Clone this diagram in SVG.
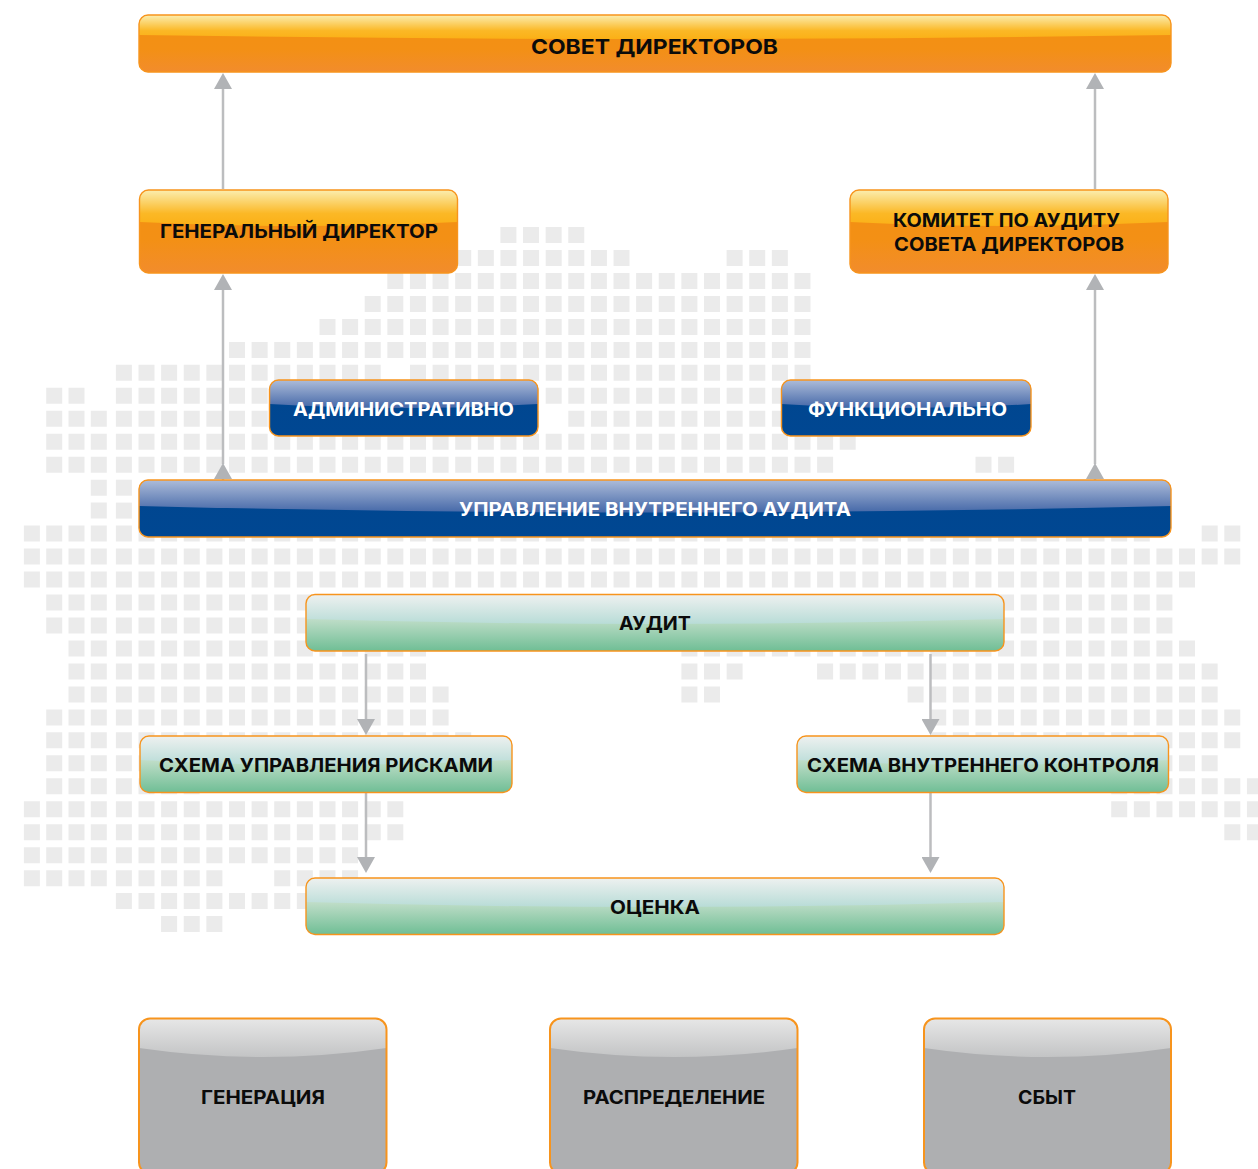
<svg xmlns="http://www.w3.org/2000/svg" width="1258" height="1169" viewBox="0 0 1258 1169">
<style>
.m{fill:none;stroke:#ebebeb;stroke-width:16;stroke-dasharray:16 6.62}
.l{fill:none;stroke:#ebebeb;stroke-width:16;stroke-dasharray:16 6.3}
.c{fill:none;stroke:#bcbdbf;stroke-width:2.5;marker-end:url(#ah)}
.b{fill:none;stroke:#f7941d;stroke-width:1.4}
.g{stroke-width:2}
.o{fill:url(#oBase)}.og{fill:url(#oGloss)}
.u{fill:url(#uBase)}.ug{fill:url(#uGloss)}
.v{fill:url(#vBase)}.vg{fill:url(#vGloss)}
.y{fill:#aeafb1}.yg{fill:url(#yGloss)}
text{font-family:Inter,"Liberation Sans",sans-serif;font-weight:700;font-size:19px;fill:#0b0b0b}
.w{fill:#fff}
</style>
<defs>
<marker id="ah" viewBox="0 0 16 18" refX="0" refY="9" markerWidth="16" markerHeight="18" markerUnits="userSpaceOnUse" orient="auto"><path d="M0 0L16 9L0 18Z" fill="#b1b3b6"/></marker>
<linearGradient id="oBase" x1="0" y1="0" x2="0" y2="1"><stop offset="0" stop-color="#f39011"/><stop offset=".6" stop-color="#f39015"/><stop offset="1" stop-color="#f28c2c"/></linearGradient>
<linearGradient id="oGloss" x1="0" y1="0" x2="0" y2="1"><stop offset="0" stop-color="#fbeeb0"/><stop offset=".65" stop-color="#fbb826"/><stop offset="1" stop-color="#fbb016"/></linearGradient>
<linearGradient id="uBase" x1="0" y1="0" x2="0" y2="1"><stop offset="0" stop-color="#00468f"/><stop offset="1" stop-color="#004792"/></linearGradient>
<linearGradient id="uGloss" x1="0" y1="0" x2="0" y2="1"><stop offset="0" stop-color="#adbcd9"/><stop offset="1" stop-color="#4568a8"/></linearGradient>
<linearGradient id="vBase" x1="0" y1="0" x2="0" y2="1"><stop offset="0" stop-color="#c4dfcb"/><stop offset=".4" stop-color="#c4dfcb"/><stop offset="1" stop-color="#6fbe95"/></linearGradient>
<linearGradient id="vGloss" x1="0" y1="0" x2="0" y2="1"><stop offset="0" stop-color="#eef1f0"/><stop offset="1" stop-color="#b8dcd7"/></linearGradient>
<linearGradient id="yGloss" x1="0" y1="0" x2="0" y2="1"><stop offset="0" stop-color="#e7e7e7"/><stop offset="1" stop-color="#c3c4c5"/></linearGradient>
</defs>
<g id="map-background" transform="translate(-0.4,-0.5)">
<path class="m" d="M500.8 235.5H584.7"/>
<path class="m" d="M455.6 258.5H629.9M727 258.5H788.3"/>
<path class="m" d="M387.7 281.4H810.9"/>
<path class="m" d="M365.1 304.4H810.9"/>
<path class="m" d="M319.9 327.4H810.9"/>
<path class="m" d="M229.4 350.4H810.9"/>
<path class="m" d="M116.3 373.3H381.1M410.4 373.3H810.9"/>
<path class="m" d="M116.3 396.3H810.9"/>
<path class="m" d="M116.3 419.3H539.5M568.7 419.3H810.9"/>
<path class="m" d="M116.3 442.2H856.1"/>
<path class="m" d="M116.3 465.2H833.5M975.9 465.2H1014.5"/>
<path class="m" d="M116.3 488.2H132.3"/>
<path class="m" d="M116.3 511.1H132.3"/>
<path class="m" d="M116.3 534.1H1150.2M1202.1 534.1H1240.7"/>
<path class="m" d="M116.3 557.1H1240.7"/>
<path class="m" d="M116.3 580.1H1195.4"/>
<path class="m" d="M116.3 603H1172.8"/>
<path class="m" d="M116.3 626H1172.8"/>
<path class="m" d="M116.3 649H426.4M681.8 649H1195.4"/>
<path class="m" d="M116.3 671.9H426.4M681.8 671.9H743M817.5 671.9H1218.1"/>
<path class="m" d="M116.3 694.9H449M681.8 694.9H720.4M908 694.9H1218.1"/>
<path class="m" d="M116.3 717.9H449M930.6 717.9H1240.7"/>
<path class="m" d="M116.3 740.8H471.6M930.6 740.8H1240.7"/>
<path class="m" d="M116.3 763.8H200M1156.8 763.8H1218.1"/>
<path class="m" d="M116.3 786.8H200M1111.6 786.8H1263.3"/>
<path class="m" d="M116.3 809.8H403.7M1111.6 809.8H1263.3"/>
<path class="m" d="M116.3 832.7H403.7M1224.7 832.7H1263.3"/>
<path class="m" d="M116.3 855.7H358.5"/>
<path class="m" d="M116.3 878.7H222.8M274.6 878.7H358.5"/>
<path class="m" d="M116.3 901.6H313.3"/>
<path class="m" d="M161.5 924.6H222.8"/>
<path class="l" d="M46.6 396.3H84.9M46.6 419.3H107.2M46.6 442.2H107.2M46.6 465.2H107.2M91.2 488.2H107.2M91.2 511.1H107.2"/>
<path class="l" d="M24.3 534.1H107.2M24.3 557.1H107.2M24.3 580.1H107.2M46.6 603H107.2M46.6 626H107.2"/>
<path class="l" d="M68.9 649H107.2M68.9 671.9H107.2M68.9 694.9H107.2M46.6 717.9H107.2M46.6 740.8H107.2M46.6 763.8H107.2M46.6 786.8H107.2"/>
<path class="l" d="M24.3 809.8H107.2M24.3 832.7H107.2M24.3 855.7H107.2M24.3 878.7H107.2"/>
</g>
<g id="connectors">
<path class="c" d="M223 189V89"/>
<path class="c" d="M1095 189V89"/>
<path class="c" d="M223 464V290"/>
<path class="c" d="M1095 464V290"/>
<path class="c" d="M223 480V479"/>
<path class="c" d="M1095 480V479"/>
<path class="c" d="M366 654V719"/>
<path class="c" d="M930.5 654V719"/>
<path class="c" d="M366 793V857"/>
<path class="c" d="M930.5 793V857"/>
</g>
<g id="node-board">
<rect class="o" x="139" y="15" width="1032" height="57" rx="9"/>
<path class="og" d="M139 35V24a9 9 0 0 1 9-9H1162a9 9 0 0 1 9 9V35Q655 43 139 35Z"/>
<rect class="b" x="139" y="15" width="1032" height="57" rx="9"/>
<text x="531" y="54" style="font-size:20.500px" textLength="247" lengthAdjust="spacingAndGlyphs">СОВЕТ ДИРЕКТОРОВ</text>
</g>
<g id="node-ceo">
<rect class="o" x="139.500" y="190" width="318" height="83" rx="9"/>
<path class="og" d="M139.500 222V199a9 9 0 0 1 9-9H448.500a9 9 0 0 1 9 9V222Q298 230 139.500 222Z"/>
<rect class="b" x="139.500" y="190" width="318" height="83" rx="9"/>
<text x="160" y="238.300" textLength="278" lengthAdjust="spacingAndGlyphs">ГЕНЕРАЛЬНЫЙ ДИРЕКТОР</text>
</g>
<g id="node-audit-committee">
<rect class="o" x="850" y="190" width="318" height="83" rx="9"/>
<path class="og" d="M850 222V199a9 9 0 0 1 9-9H1159a9 9 0 0 1 9 9V222Q1009 230 850 222Z"/>
<rect class="b" x="850" y="190" width="318" height="83" rx="9"/>
<text x="893" y="226.500" textLength="227" lengthAdjust="spacingAndGlyphs">КОМИТЕТ ПО АУДИТУ</text>
<text x="894" y="250.500" textLength="230" lengthAdjust="spacingAndGlyphs">СОВЕТА ДИРЕКТОРОВ</text>
</g>
<g id="node-admin">
<rect class="u" x="269.500" y="380" width="268.500" height="56" rx="9"/>
<path class="ug" d="M269.500 404V389a9 9 0 0 1 9-9H529a9 9 0 0 1 9 9V404Q404 412 269.500 404Z"/>
<rect class="b" x="269.500" y="380" width="268.500" height="56" rx="9"/>
<text class="w" x="293" y="415.500" textLength="221" lengthAdjust="spacingAndGlyphs">АДМИНИСТРАТИВНО</text>
</g>
<g id="node-func">
<rect class="u" x="781.500" y="380" width="249.500" height="56" rx="9"/>
<path class="ug" d="M781.500 404V389a9 9 0 0 1 9-9H1022a9 9 0 0 1 9 9V404Q906 412 781.500 404Z"/>
<rect class="b" x="781.500" y="380" width="249.500" height="56" rx="9"/>
<text class="w" x="808" y="415.500" textLength="199" lengthAdjust="spacingAndGlyphs">ФУНКЦИОНАЛЬНО</text>
</g>
<g id="node-internal-audit">
<rect class="u" x="139" y="480" width="1032" height="57" rx="9"/>
<path class="ug" d="M139 506V489a9 9 0 0 1 9-9H1162a9 9 0 0 1 9 9V506Q655 519 139 506Z"/>
<rect class="b" x="139" y="480" width="1032" height="57" rx="9"/>
<text class="w" x="459" y="515.500" textLength="392" lengthAdjust="spacingAndGlyphs">УПРАВЛЕНИЕ ВНУТРЕННЕГО АУДИТА</text>
</g>
<g id="node-audit">
<rect class="v" x="306" y="594.500" width="698" height="56.500" rx="9"/>
<path class="vg" d="M306 619V603.500a9 9 0 0 1 9-9H995a9 9 0 0 1 9 9V619Q655 629 306 619Z"/>
<rect class="b" x="306" y="594.500" width="698" height="56.500" rx="9"/>
<text x="619" y="629.500" textLength="72" lengthAdjust="spacingAndGlyphs">АУДИТ</text>
</g>
<g id="node-risks">
<rect class="v" x="140" y="736" width="372" height="56.500" rx="9"/>
<path class="vg" d="M140 760V745a9 9 0 0 1 9-9H503a9 9 0 0 1 9 9V760Q326 770 140 760Z"/>
<rect class="b" x="140" y="736" width="372" height="56.500" rx="9"/>
<text x="159" y="771.500" textLength="334" lengthAdjust="spacingAndGlyphs">СХЕМА УПРАВЛЕНИЯ РИСКАМИ</text>
</g>
<g id="node-control">
<rect class="v" x="797" y="736" width="371.500" height="56.500" rx="9"/>
<path class="vg" d="M797 760V745a9 9 0 0 1 9-9H1159.500a9 9 0 0 1 9 9V760Q983 770 797 760Z"/>
<rect class="b" x="797" y="736" width="371.500" height="56.500" rx="9"/>
<text x="807" y="771.500" textLength="352" lengthAdjust="spacingAndGlyphs">СХЕМА ВНУТРЕННЕГО КОНТРОЛЯ</text>
</g>
<g id="node-assessment">
<rect class="v" x="306" y="878" width="698" height="56.500" rx="9"/>
<path class="vg" d="M306 902V887a9 9 0 0 1 9-9H995a9 9 0 0 1 9 9V902Q655 912 306 902Z"/>
<rect class="b" x="306" y="878" width="698" height="56.500" rx="9"/>
<text x="610" y="913.500" textLength="90" lengthAdjust="spacingAndGlyphs">ОЦЕНКА</text>
</g>
<g id="node-generation">
<rect class="y" x="139" y="1018.500" width="247.500" height="155" rx="11"/>
<path class="yg" d="M139 1048V1029.500a11 11 0 0 1 11-11H375.500a11 11 0 0 1 11 11V1048Q263 1066 139 1048Z"/>
<rect class="b g" x="139" y="1018.500" width="247.500" height="155" rx="11"/>
<text x="201" y="1103.500" textLength="124" lengthAdjust="spacingAndGlyphs">ГЕНЕРАЦИЯ</text>
</g>
<g id="node-distribution">
<rect class="y" x="550" y="1018.500" width="247.500" height="155" rx="11"/>
<path class="yg" d="M550 1048V1029.500a11 11 0 0 1 11-11H786.500a11 11 0 0 1 11 11V1048Q674 1066 550 1048Z"/>
<rect class="b g" x="550" y="1018.500" width="247.500" height="155" rx="11"/>
<text x="583" y="1103.500" textLength="182" lengthAdjust="spacingAndGlyphs">РАСПРЕДЕЛЕНИЕ</text>
</g>
<g id="node-sales">
<rect class="y" x="924" y="1018.500" width="247" height="155" rx="11"/>
<path class="yg" d="M924 1048V1029.500a11 11 0 0 1 11-11H1160a11 11 0 0 1 11 11V1048Q1047 1066 924 1048Z"/>
<rect class="b g" x="924" y="1018.500" width="247" height="155" rx="11"/>
<text x="1018" y="1103.500" textLength="58" lengthAdjust="spacingAndGlyphs">СБЫТ</text>
</g>
</svg>
